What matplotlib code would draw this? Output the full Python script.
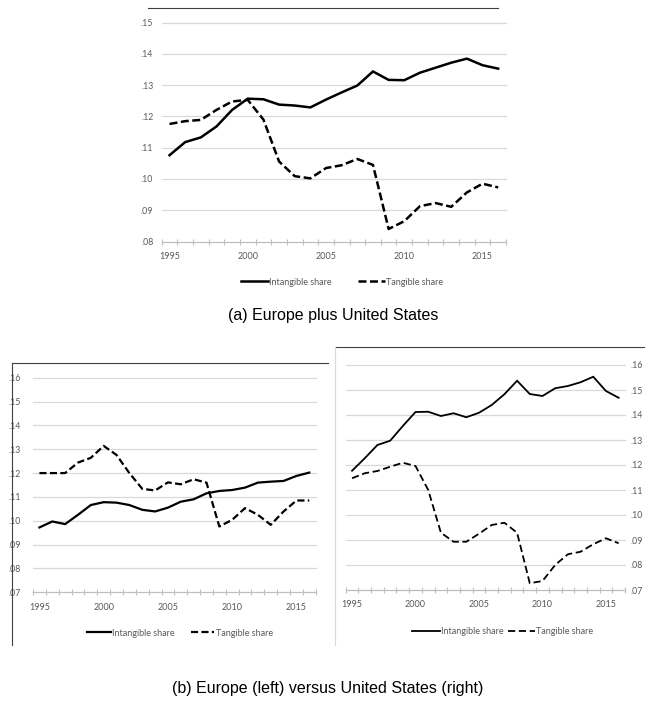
import numpy as np
import matplotlib.pyplot as plt
from matplotlib.lines import Line2D

plt.rcParams['font.family'] = ['Lato', 'DejaVu Sans']

years = list(range(1995, 2017))
label_years = [1995, 2000, 2005, 2010, 2015]

# (a) Europe plus United States
eu_us_intangible = [.1076, .1118, .1133, .1168, .1221, .1257, .1255, .1238, .1235, .1229, .1254,
                    .1277, .1299, .1344, .1317, .1316, .1340, .1356, .1372, .1385, .1364, .1353]
eu_us_tangible = [.1176, .1185, .1189, .1221, .1248, .1253, .1190, .1056, .1009, .1002, .1035,
                  .1044, .1064, .1045, .0840, .0865, .0913, .0923, .0911, .0957, .0985, .0973]

# (b) left: Europe
eu_intangible = [.0972, .0997, .0986, .1025, .1066, .1078, .1076, .1066, .1046, .1039, .1055,
                 .1080, .1090, .1115, .1125, .1129, .1139, .1160, .1164, .1167, .1188, .1202]
eu_tangible = [.1200, .1200, .1200, .1244, .1264, .1314, .1276, .1200, .1134, .1127, .1161,
               .1153, .1174, .1160, .0976, .1004, .1053, .1025, .0983, .1039, .1085, .1085]

# (b) right: United States
us_intangible = [.1177, .1227, .1280, .1297, .1356, .1412, .1413, .1396, .1407, .1391, .1409,
                 .1440, .1483, .1537, .1484, .1476, .1507, .1516, .1531, .1553, .1496, .1469]
us_tangible = [.1147, .1167, .1176, .1193, .1209, .1196, .1100, .0929, .0893, .0893, .0925,
               .0960, .0969, .0929, .0727, .0736, .0800, .0843, .0853, .0883, .0907, .0887]

series_names = ['Intangible share', 'Tangible share']

W, H = 645, 704
fig = plt.figure(figsize=(W / 100, H / 100), dpi=100)
fig.patch.set_facecolor('white')


def box(l, t, r, b):
    return [l / W, 1 - b / H, (r - l) / W, (b - t) / H]


def hline(x0, x1, y, color='#404040', lw=0.8):
    fig.add_artist(Line2D([x0 / W, x1 / W], [1 - y / H, 1 - y / H], color=color, lw=lw))


def vline(x, y0, y1, color='#404040', lw=0.8):
    fig.add_artist(Line2D([x / W, x / W], [1 - y0 / H, 1 - y1 / H], color=color, lw=lw))


def panel(ax, inter, tang, lo, hi, lw, dash, ypad, side='left'):
    l1, = ax.plot(years, inter, color='black', lw=lw, solid_joinstyle='miter')
    l2, = ax.plot(years, tang, color='black', lw=lw, linestyle=(0, dash))
    ax.set_xlim(1994.5, 2016.5)
    ax.set_ylim(lo / 100, hi / 100)
    yt = [v / 100 for v in range(lo, hi + 1)]
    ax.set_yticks(yt)
    ax.set_yticklabels(['.%02d' % v for v in range(lo, hi + 1)])
    for s in ax.spines.values():
        s.set_visible(False)
    ax.spines['bottom'].set_visible(True)
    ax.spines['bottom'].set_color('#bfbfbf')
    ax.spines['bottom'].set_linewidth(0.8)
    ax.grid(axis='y', color='#d9d9d9', lw=0.9)
    for g in ax.get_ygridlines():
        g.set_clip_on(False)
    ax.set_axisbelow(True)
    ax.tick_params(axis='y', length=0, labelsize=6.3, labelcolor='#595959', pad=ypad)
    if side == 'right':
        ax.yaxis.tick_right()
    ax.set_xticks(np.arange(1994.5, 2017, 1))
    ax.set_xticks(label_years, minor=True)
    ax.set_xticklabels([str(y) for y in label_years], minor=True)
    ax.tick_params(axis='x', which='major', direction='inout', length=5, width=0.8,
                   color='#bfbfbf', labelbottom=False)
    ax.tick_params(axis='x', which='minor', length=0, labelsize=6.5, labelcolor='#595959', pad=7.5)
    return l1, l2


def legend(handles, x, y, hl, cs):
    fig.legend(handles, series_names, loc='center', bbox_to_anchor=(x / W, 1 - y / H), ncol=2,
               frameon=False, fontsize=6.5, labelcolor='#595959', handlelength=hl,
               handletextpad=0.15, columnspacing=cs, borderaxespad=0, borderpad=0)


ax1 = fig.add_axes(box(161.7, 22.7, 506, 241.5))
h = panel(ax1, eu_us_intangible, eu_us_tangible, 8, 15, 1.8, (3.2, 1.4), 6)
legend(h, 342, 282, 3.0, 2.9)

ax2 = fig.add_axes(box(33, 377.7, 315.7, 592.3))
h = panel(ax2, eu_intangible, eu_tangible, 7, 16, 1.6, (3.2, 1.5), 8.5)
legend(h, 180, 633, 2.6, 1.8)

ax3 = fig.add_axes(box(345.7, 365, 625, 590))
h = panel(ax3, us_intangible, us_tangible, 7, 16, 1.3, (4, 2), 4, side='right')
legend(h, 503, 632, 3.0, 0.5)

# frame lines left over from the pasted charts
hline(148, 498, 8.3)
hline(12, 328, 362.5)
vline(12, 362.5, 645)
hline(335, 645, 347)
vline(335, 347, 645, color='#d9d9d9')

cap_font = ['Liberation Sans Narrow', 'Liberation Sans', 'DejaVu Sans']
fig.text(333 / W, 1 - 315 / H, '(a) Europe plus United States', ha='center', va='center',
         fontsize=11.5, family=cap_font)
fig.text(328 / W, 1 - 688 / H, '(b) Europe (left) versus United States (right)', ha='center',
         va='center', fontsize=11.5, family=cap_font)

fig.savefig('out.png', dpi=100)
